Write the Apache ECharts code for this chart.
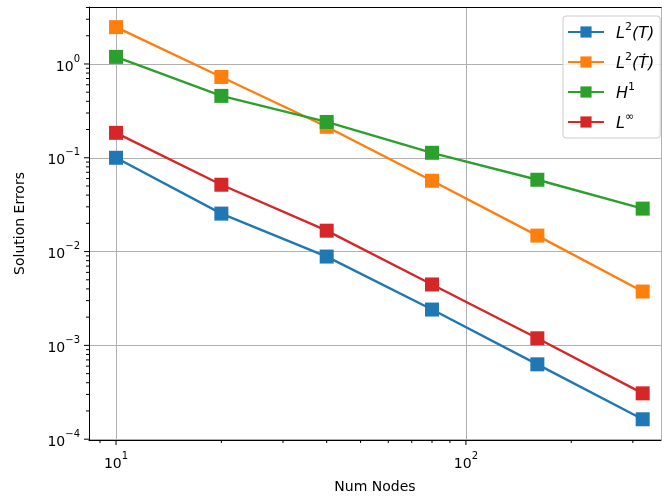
<!DOCTYPE html>
<html>
<head>
<meta charset="utf-8">
<script src="https://cdn.jsdelivr.net/npm/echarts@6/dist/echarts.min.js"></script>
<style>
html,body{margin:0;padding:0;background:#fff;}
#chart{width:662px;height:499px;}
</style>
</head>
<body>
<div id="chart"></div>
<script>
// ---- data ----
var numNodes = [10, 20, 40, 80, 160, 320];
var seriesNames = ['L2(T)', 'L2(Tdot)', 'H1', 'Linf'];
var errL2T    = [0.100, 0.0254, 0.00885, 0.00241, 0.000628, 0.000163];
var errL2Tdot = [2.47, 0.727, 0.214, 0.0569, 0.0148, 0.00375];
var errH1     = [1.19, 0.457, 0.241, 0.113, 0.0583, 0.0287];
var errLinf   = [0.1845, 0.0516, 0.0167, 0.00446, 0.00119, 0.000308];
var xMajorTicks = [10, 100];
var xMinorTicks = [9, 20, 30, 40, 50, 60, 70, 80, 90, 200, 300];
var yMajorTicks = [0.0001, 0.001, 0.01, 0.1, 1];
var yMinorTicks = [0.0002, 0.0003, 0.0004, 0.0005, 0.0006, 0.0007, 0.0008, 0.0009,
                   0.002, 0.003, 0.004, 0.005, 0.006, 0.007, 0.008, 0.009,
                   0.02, 0.03, 0.04, 0.05, 0.06, 0.07, 0.08, 0.09,
                   0.2, 0.3, 0.4, 0.5, 0.6, 0.7, 0.8, 0.9,
                   2, 3, 4];
var colors = ['#1f77b4', '#ff7f0e', '#2ca02c', '#d62728'];

var FONT = 'DejaVu Sans';
var X_MIN = 8.37, X_MAX = 361;
var Y_MIN = 0.000098, Y_MAX = 4.05;

function powLabel(v) {
  var e = Math.log10(v);
  var r = Math.round(e);
  if (Math.abs(e - r) > 1e-6) return '';
  var s = String(r).replace('-', '−');
  return '{b|10}{s|' + s + '}';
}
var labelRich = {
  b: {fontFamily: FONT, fontSize: 14, color: '#000', lineHeight: 20, verticalAlign: 'bottom'},
  s: {fontFamily: FONT, fontSize: 10, color: '#000', lineHeight: 12, verticalAlign: 'top'}
};

function toPairs(ys) { return numNodes.map(function (x, i) { return [x, ys[i]]; }); }

var seriesData = [errL2T, errL2Tdot, errH1, errLinf];
var series = seriesData.map(function (d, i) {
  return {
    name: seriesNames[i],
    type: 'line',
    data: toPairs(d),
    symbol: 'rect',
    symbolSize: 14,
    lineStyle: {color: colors[i], width: 2.4},
    itemStyle: {color: colors[i]},
    z: 3 + i
  };
});

function tickSeries(vals, axis, len) {
  return {
    type: 'custom',
    silent: true,
    clip: false,
    z: 10,
    data: vals.map(function (v) { return axis === 'x' ? [v, 1] : [10, v]; }),
    renderItem: function (params, api) {
      var cs = params.coordSys;
      if (axis === 'x') {
        var px = api.coord([api.value(0), 1])[0];
        var by = cs.y + cs.height;
        return {type: 'line', shape: {x1: px, y1: by, x2: px, y2: by + len},
                style: {stroke: '#000', lineWidth: 1}};
      } else {
        var py = api.coord([10, api.value(1)])[1];
        var lx = cs.x;
        return {type: 'line', shape: {x1: lx, y1: py, x2: lx - len, y2: py},
                style: {stroke: '#000', lineWidth: 1}};
      }
    }
  };
}
series.push(tickSeries(xMajorTicks, 'x', 5));
series.push(tickSeries(xMinorTicks, 'x', 3));
series.push(tickSeries(yMajorTicks, 'y', 5));
series.push(tickSeries(yMinorTicks, 'y', 3));

var legendLabels = {
  'L2(T)': '{i|L}{s|2}{i|(T)}',
  'L2(Tdot)': '{i|L}{s|2}{i|(Ṫ)}',
  'H1': '{i|H}{s|1}',
  'Linf': '{i|L}{s|∞}'
};

var chart = echarts.init(document.getElementById('chart'), null, {renderer: 'canvas'});
chart.setOption({
  animation: false,
  backgroundColor: '#fff',
  textStyle: {fontFamily: FONT},
  grid: {left: 89, top: 7, right: 1, bottom: 58, show: false},
  xAxis: [{
    type: 'log', logBase: 10, min: X_MIN, max: X_MAX,
    name: 'Num Nodes', nameLocation: 'middle', nameGap: 40,
    nameTextStyle: {fontFamily: FONT, fontSize: 14, color: '#000'},
    axisLine: {show: true, lineStyle: {color: '#000', width: 1}},
    axisTick: {show: false},
    splitLine: {show: true, lineStyle: {color: '#b0b0b0', width: 1}},
    axisLabel: {margin: 11, formatter: powLabel, rich: labelRich, showMinLabel: false, showMaxLabel: false}
  }, {
    type: 'log', logBase: 10, min: X_MIN, max: X_MAX, position: 'top',
    axisLine: {show: true, lineStyle: {color: '#000', width: 1}},
    axisTick: {show: false}, axisLabel: {show: false}, splitLine: {show: false}
  }],
  yAxis: {
    type: 'log', logBase: 10, min: Y_MIN, max: Y_MAX,
    name: 'Solution Errors', nameLocation: 'middle', nameGap: 62,
    nameTextStyle: {fontFamily: FONT, fontSize: 14, color: '#000'},
    axisLine: {show: true, lineStyle: {color: '#000', width: 1}},
    axisTick: {show: false},
    splitLine: {show: true, lineStyle: {color: '#b0b0b0', width: 1}},
    axisLabel: {margin: 9, formatter: powLabel, rich: labelRich}
  },
  legend: {
    data: seriesNames,
    left: 563, top: 16,
    orient: 'vertical',
    itemWidth: 36, itemHeight: 14, itemGap: 10,
    padding: [6, 6, 6, 4],
    backgroundColor: 'rgba(255,255,255,0.8)',
    borderColor: '#cccccc', borderWidth: 1, borderRadius: 3,
    formatter: function (name) { return legendLabels[name]; },
    textStyle: {
      fontFamily: FONT,
      padding: [0, 0, 0, 7],
      rich: {
        i: {fontFamily: FONT, fontSize: 16, fontStyle: 'italic', color: '#000', lineHeight: 20, verticalAlign: 'bottom'},
        s: {fontFamily: FONT, fontSize: 11, color: '#000', lineHeight: 12, verticalAlign: 'top'}
      }
    }
  },
  series: series
});
</script>
</body>
</html>
